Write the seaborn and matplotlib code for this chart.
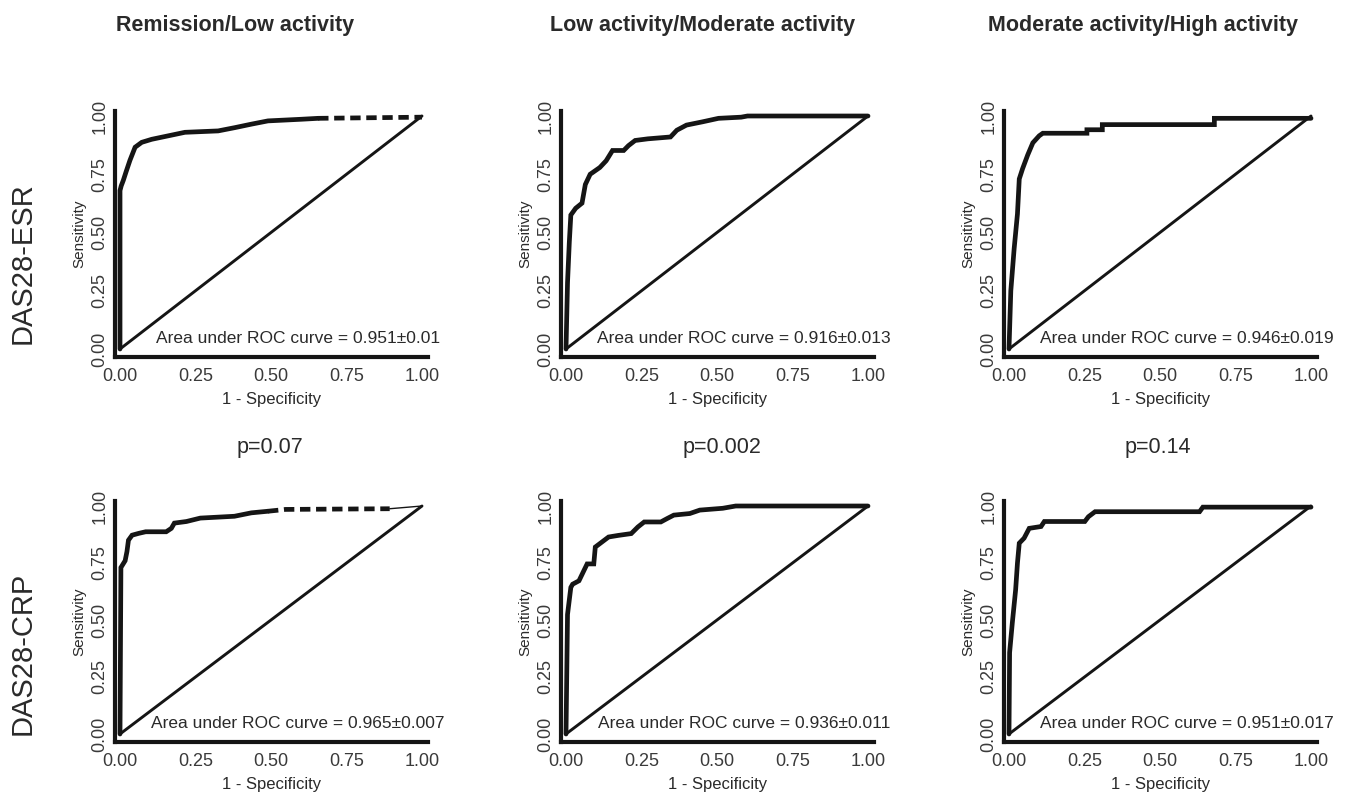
import matplotlib
matplotlib.use("Agg")
import matplotlib.pyplot as plt
import seaborn as sns
import pandas as pd

# Column / row headings
col_titles = ["Remission/Low activity", "Low activity/Moderate activity", "Moderate activity/High activity"]
row_titles = ["DAS28-ESR", "DAS28-CRP"]
p_values = ["p=0.07", "p=0.002", "p=0.14"]
auc_labels = [
    ["Area under ROC curve = 0.951\u00b10.01", "Area under ROC curve = 0.916\u00b10.013", "Area under ROC curve = 0.946\u00b10.019"],
    ["Area under ROC curve = 0.965\u00b10.007", "Area under ROC curve = 0.936\u00b10.011", "Area under ROC curve = 0.951\u00b10.017"],
]
tick_vals = [0.0, 0.25, 0.5, 0.75, 1.0]
tick_labels = ["0.00", "0.25", "0.50", "0.75", "1.00"]

# ---- ROC curves (1 - specificity, sensitivity) ----
# DAS28-ESR, remission/low
fpr_esr_rem = [0.0, 0.0, 0.004, 0.011, 0.02, 0.033, 0.05, 0.072, 0.105, 0.16, 0.215, 0.325, 0.38, 0.435, 0.49, 0.60, 0.656]
tpr_esr_rem = [0.0, 0.68, 0.70, 0.724, 0.76, 0.81, 0.866, 0.887, 0.90, 0.915, 0.93, 0.936, 0.95, 0.965, 0.979, 0.986, 0.99]
fpr_esr_rem_tail = [0.656, 1.0]
tpr_esr_rem_tail = [0.99, 0.995]

# DAS28-ESR, low/moderate
fpr_esr_low = [0.0, 0.005, 0.011, 0.016, 0.032, 0.053, 0.064, 0.08, 0.112, 0.133, 0.154, 0.191, 0.207, 0.229, 0.271,
               0.346, 0.367, 0.399, 0.452, 0.505, 0.58, 0.601, 1.0]
tpr_esr_low = [0.0, 0.284, 0.459, 0.575, 0.604, 0.626, 0.706, 0.75, 0.779, 0.808, 0.852, 0.852, 0.873, 0.895, 0.902,
               0.91, 0.939, 0.961, 0.975, 0.99, 0.995, 1.0, 1.0]

# DAS28-ESR, moderate/high
fpr_esr_mod = [0.0, 0.006, 0.017, 0.028, 0.034, 0.045, 0.062, 0.079, 0.10, 0.112, 0.258, 0.258, 0.309, 0.309, 0.68, 0.68, 1.0]
tpr_esr_mod = [0.0, 0.25, 0.43, 0.58, 0.73, 0.774, 0.833, 0.885, 0.915, 0.926, 0.926, 0.941, 0.941, 0.963, 0.963, 0.99, 0.99]

# DAS28-CRP, remission/low
fpr_crp_rem = [0.0, 0.003, 0.017, 0.023, 0.028, 0.04, 0.062, 0.085, 0.153, 0.17, 0.18, 0.22, 0.266, 0.379, 0.435, 0.49]
tpr_crp_rem = [0.0, 0.73, 0.76, 0.80, 0.85, 0.872, 0.88, 0.887, 0.887, 0.902, 0.925, 0.932, 0.947, 0.955, 0.97, 0.977]
fpr_crp_rem_tail = [0.49, 0.548, 0.893]
tpr_crp_rem_tail = [0.977, 0.985, 0.988]
fpr_crp_rem_end = [0.893, 1.0]
tpr_crp_rem_end = [0.988, 1.0]

# DAS28-CRP, low/moderate
fpr_crp_low = [0.0, 0.005, 0.016, 0.022, 0.043, 0.059, 0.07, 0.092, 0.097, 0.119, 0.141, 0.173, 0.216, 0.238, 0.259,
               0.314, 0.335, 0.357, 0.41, 0.443, 0.519, 0.562, 1.0]
tpr_crp_low = [0.0, 0.524, 0.643, 0.657, 0.672, 0.716, 0.746, 0.746, 0.82, 0.842, 0.864, 0.871, 0.879, 0.908, 0.93,
               0.93, 0.945, 0.96, 0.967, 0.982, 0.99, 1.0, 1.0]

# DAS28-CRP, moderate/high
fpr_crp_mod = [0.0, 0.002, 0.011, 0.022, 0.028, 0.034, 0.05, 0.067, 0.106, 0.117, 0.251, 0.263, 0.285, 0.631, 0.642, 1.0]
tpr_crp_mod = [0.0, 0.357, 0.488, 0.633, 0.75, 0.837, 0.859, 0.902, 0.91, 0.932, 0.932, 0.953, 0.975, 0.975, 0.995, 0.995]

curves = [
    [(fpr_esr_rem, tpr_esr_rem), (fpr_esr_low, tpr_esr_low), (fpr_esr_mod, tpr_esr_mod)],
    [(fpr_crp_rem, tpr_crp_rem), (fpr_crp_low, tpr_crp_low), (fpr_crp_mod, tpr_crp_mod)],
]
dashed_tails = {(0, 0): (fpr_esr_rem_tail, tpr_esr_rem_tail), (1, 0): (fpr_crp_rem_tail, tpr_crp_rem_tail)}
thin_tails = {(1, 0): (fpr_crp_rem_end, tpr_crp_rem_end)}
diag = [0.0, 1.0]

sns.set_theme(style="white")
plt.rcParams["font.family"] = ["Liberation Sans", "DejaVu Sans"]

W, H = 1358, 796
fig = plt.figure(figsize=(W / 100, H / 100), dpi=100)

# pixel layout of each panel (data origin + pixels per unit)
col_x0 = [120, 566, 1009]
row_y0 = [349, 734]
row_sy = [233, 228]
sx = 302
xlo, xhi = -0.015, 1.02
ylo, yhi = -0.035, 1.02
ink = "#151515"
txt = "#2a2a2a"

for r in range(2):
    sy = row_sy[r]
    for c in range(3):
        left = col_x0[c] + xlo * sx
        bottom = row_y0[r] - ylo * sy
        w = (xhi - xlo) * sx
        h = (yhi - ylo) * sy
        ax = fig.add_axes([left / W, 1 - bottom / H, w / W, h / H])

        fx, ty = curves[r][c]
        df = pd.DataFrame({"fpr": fx, "tpr": ty})
        sns.lineplot(data=df, x="fpr", y="tpr", ax=ax, sort=False, estimator=None,
                     color=ink, linewidth=3.4, clip_on=False, solid_joinstyle="miter")
        if (r, c) in dashed_tails:
            tx, tt = dashed_tails[(r, c)]
            sns.lineplot(x=tx, y=tt, ax=ax, sort=False, estimator=None, color=ink,
                         linewidth=3.4, linestyle=(0, (2.2, 1.2)), clip_on=False)
        if (r, c) in thin_tails:
            tx, tt = thin_tails[(r, c)]
            sns.lineplot(x=tx, y=tt, ax=ax, sort=False, estimator=None, color=ink,
                         linewidth=1.0, clip_on=False)
        sns.lineplot(x=diag, y=diag, ax=ax, sort=False, estimator=None, color=ink,
                     linewidth=2.1, clip_on=False)

        ax.set_xlim(xlo, xhi)
        ax.set_ylim(ylo, yhi)
        ax.set_xticks(tick_vals)
        ax.set_xticklabels(tick_labels)
        ax.set_yticks(tick_vals)
        ax.set_yticklabels(tick_labels, rotation=90, va="center")
        ax.tick_params(axis="x", length=0, pad=8, labelsize=13, labelcolor="#3a3a3a")
        ax.tick_params(axis="y", length=0, pad=5, labelsize=13, labelcolor="#3a3a3a")
        ax.set_xlabel("1 - Specificity", fontsize=12, color=txt, labelpad=5)
        ax.set_ylabel("Sensitivity", fontsize=11, color=txt, labelpad=4)
        for side in ["top", "right"]:
            ax.spines[side].set_visible(False)
        for side in ["left", "bottom"]:
            ax.spines[side].set_color(ink)
            ax.spines[side].set_linewidth(3.0)
        ax.grid(False)
        ax.set_facecolor("white")
        ax.text(0.59, 0.045, auc_labels[r][c], fontsize=12.5, color=txt,
                ha="center", va="center")

# column titles, row titles, p-values
title_x = [235, 703, 1143]
for c in range(3):
    fig.text(title_x[c] / W, 1 - 25 / H, col_titles[c], fontsize=15.5, fontweight="bold",
             color=txt, ha="center", va="center")
    fig.text([270, 722, 1158][c] / W, 1 - 447 / H, p_values[c], fontsize=15.5,
             color=txt, ha="center", va="center")

for r, yc in enumerate([263, 653]):
    fig.text(23 / W, 1 - yc / H, row_titles[r], fontsize=21, color=txt,
             rotation=90, ha="center", va="center")

fig.savefig("out.png", dpi=100, facecolor="white")
